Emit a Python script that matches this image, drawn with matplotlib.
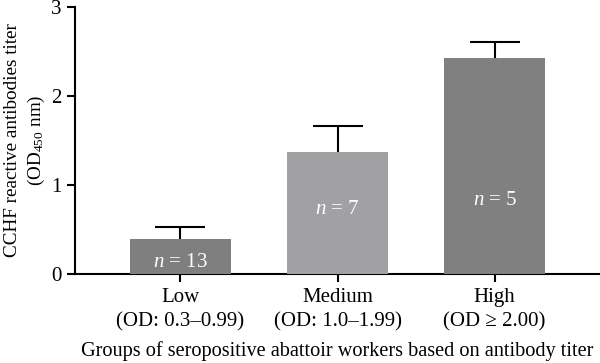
import numpy as np
import matplotlib.pyplot as plt

plt.rcParams['font.family'] = ['Liberation Serif', 'DejaVu Serif']
plt.rcParams['mathtext.fontset'] = 'custom'
plt.rcParams['mathtext.rm'] = 'Liberation Serif'
plt.rcParams['mathtext.it'] = 'Liberation Serif:italic'

groups = ['Low\n(OD: 0.3–0.99)', 'Medium\n(OD: 1.0–1.99)', 'High\n(OD ≥ 2.00)']
means = [0.39, 1.37, 2.43]
errors = [0.14, 0.29, 0.18]
counts = [13, 7, 5]
label_y = [0.13, 0.73, 0.83]
colors = ['#7f7f7f', '#a1a1a3', '#808080']

fig = plt.figure(figsize=(6, 3.63), dpi=100)
ax = fig.add_axes([0.125, 0.245, 0.875, 0.736])

x = np.arange(len(groups))
# symmetric error bars drawn behind the bars so only the upper half shows
ax.errorbar(x, means, yerr=errors, fmt='none', ecolor='black',
            elinewidth=1.5, capsize=18, capthick=1.5, zorder=1)
ax.bar(x, means, width=0.64, color=colors, zorder=3)

for xi, yi, n in zip(x, label_y, counts):
    ax.text(xi, yi, f'$n$ = {n}', color='white', ha='center', va='center',
            fontsize=15, zorder=4)

ax.set_xlim(-0.67, 2.67)
ax.set_ylim(0, 3)
ax.set_yticks([0, 1, 2, 3])
ax.set_xticks(x)
ax.set_xticklabels(groups, fontsize=15, linespacing=1.35)
ax.tick_params(axis='y', labelsize=15, width=1.5, length=6)
ax.tick_params(axis='x', width=1.5, length=6, pad=4)
ax.spines['top'].set_visible(False)
ax.spines['right'].set_visible(False)
ax.spines['left'].set_linewidth(1.5)
ax.spines['bottom'].set_linewidth(1.5)

ax.set_ylabel('CCHF reactive antibodies titer\n(OD$_{450}$ nm)', fontsize=13.8,
              linespacing=1.3, labelpad=3)
ax.set_xlabel('Groups of seropositive abattoir workers based on antibody titer',
              fontsize=14.6, labelpad=7)

fig.savefig('out.png', dpi=100)
